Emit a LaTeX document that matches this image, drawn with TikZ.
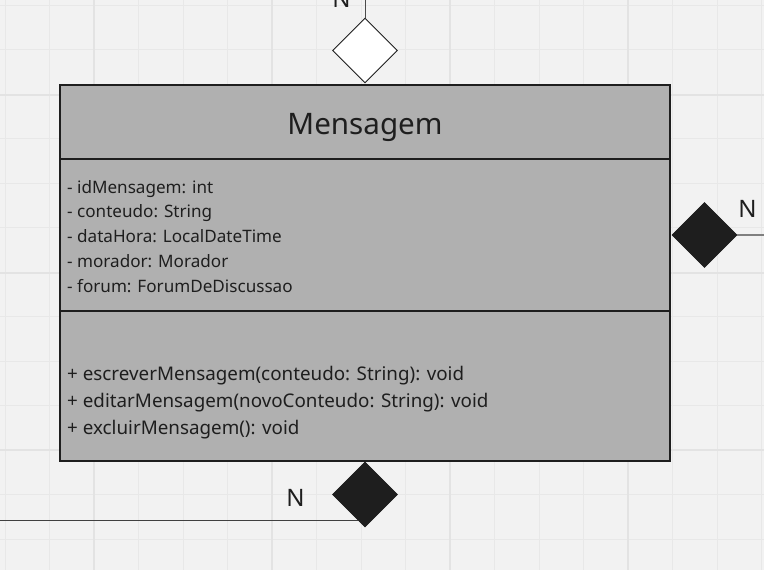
\documentclass[tikz,border=0pt]{standalone}
\usepackage{fontspec}
\setmainfont{Noto Sans}
\usetikzlibrary{shapes.geometric}
\definecolor{bgc}{HTML}{F2F2F2}
\definecolor{gridc}{HTML}{E8E8E8}
\definecolor{gridm}{HTML}{E3E3E3}
\definecolor{boxc}{HTML}{B0B0B0}
\definecolor{inkc}{HTML}{1E1E1E}
\tikzset{
  classbox/.style={draw=inkc, line width=1.1pt, fill=boxc},
  sepline/.style={draw=inkc, line width=1.1pt},
  aggr/.style={shape=diamond, draw=inkc, line width=0.9pt, fill=white, minimum width=65pt, minimum height=65pt, inner sep=0pt},
  comp/.style={shape=diamond, draw=inkc, line width=0.9pt, fill=inkc, minimum width=65pt, minimum height=65pt, inner sep=0pt},
  mult/.style={text=inkc, font=\fontsize{24}{28}\selectfont, inner sep=0pt},
  txt/.style={text=inkc, inner sep=0pt, align=left}
}
\begin{document}
\begin{tikzpicture}[x=1pt,y=-1pt]
\useasboundingbox (0,0) rectangle (764,570);
\fill[bgc] (0,0) rectangle (764,570);
% grid
\foreach \k in {0,...,17} {
  \draw[gridc, line width=1pt] ({5+44.5*\k},0) -- ({5+44.5*\k},570);
}
\foreach \k in {0,...,12} {
  \draw[gridc, line width=1pt] (0,{5+44.5*\k}) -- (764,{5+44.5*\k});
}
\foreach \xx in {94,272,450,628} { \draw[gridm, line width=1.6pt] (\xx,0) -- (\xx,570); }
\foreach \yy in {95,273,450} { \draw[gridm, line width=1.6pt] (0,\yy) -- (764,\yy); }

% class box
\path[classbox] (60,85) rectangle (670,461);
\node[inner sep=0pt, minimum width=610pt, minimum height=376pt, anchor=north west] (cls) at (60,85) {};
\draw[sepline] (60,159) -- (670,159);
\draw[sepline] (60,311) -- (670,311);

\node[txt, anchor=base, font=\fontsize{29.6}{34}\selectfont] (title) at (365,134) {Mensagem};

% multi-line nodes: base anchor is the last line's baseline
\node[txt, anchor=base west, font=\fontsize{17.1}{24.7}\selectfont] (attrs) at (67,292)
  {- idMensagem: int\\- conteudo: String\\- dataHora: LocalDateTime\\- morador: Morador\\- forum: ForumDeDiscussao};

\node[txt, anchor=base west, font=\fontsize{18.8}{27}\selectfont] (meths) at (67,434)
  {+ escreverMensagem(conteudo: String): void\\+ editarMensagem(novoConteudo: String): void\\+ excluirMensagem(): void};

% top aggregation
\node[aggr] (dTop) at (365,50.5) {};
\coordinate (topEnd) at (365,-2);
\draw[draw=inkc!80, line width=0.9pt] (dTop.north) -- (topEnd);
\node[mult, anchor=base] (nTop) at (341.5,8) {N};

% right composition
\node[comp] (dRight) at (704.5,235) {};
\coordinate (rightEnd) at (766,235);
\draw[draw=gray, line width=1.3pt] (dRight.east) -- (rightEnd);
\node[mult, anchor=base] (nRight) at (747.5,217) {N};

% bottom composition
\node[comp] (dBot) at (365,494.5) {};
\coordinate (botEnd) at (-2,520);
\draw[draw=inkc!85, line width=1pt] (botEnd) -- (358,520);
\node[mult, anchor=base] (nBot) at (295.5,506) {N};
\end{tikzpicture}
\end{document}
